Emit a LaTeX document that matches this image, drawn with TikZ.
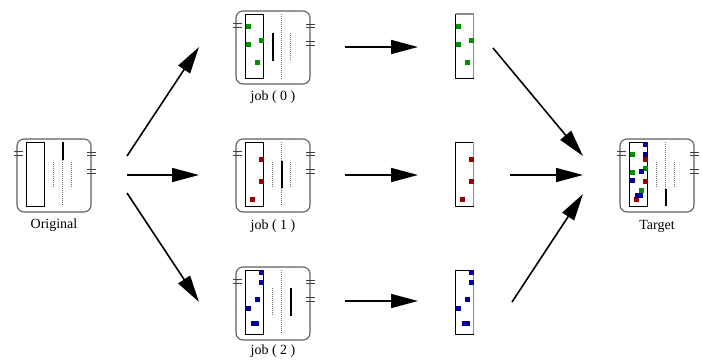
\documentclass[tikz,border=0pt]{standalone}
\usepackage{fontspec}
\setmainfont{Liberation Serif}
\usetikzlibrary{arrows.meta}
\definecolor{grn}{RGB}{0,145,0}
\definecolor{drd}{RGB}{155,0,0}
\definecolor{blu}{RGB}{0,0,155}
\definecolor{boxgray}{RGB}{95,95,95}
\tikzset{
  iconbox/.style={draw=boxgray, line width=1.1pt, rounded corners=7pt, minimum width=74pt, minimum height=73pt, inner sep=0pt},
  inrect/.style={draw=black, line width=1pt},
  tickl/.style={draw=black!75, line width=0.9pt},
  dotl/.style={draw=black!55, line width=1pt, dash pattern=on 1pt off 1pt},
  solidl/.style={draw=black, line width=2pt},
  arr/.style={line width=1.6pt, -{Triangle[length=27pt,width=14pt]}},
  lab/.style={font=\fontsize{14}{16}\selectfont, anchor=base, inner sep=0pt},
  strip/.style={draw=black, line width=1pt, minimum width=18pt, minimum height=64pt, inner sep=0pt}
}
\newcommand\sqr[3]{\fill[#1] ({#2-2.5},{#3-2.5}) rectangle ({#2+2.5},{#3+2.5});}
\newcommand\greens{\sqr{grn}{3}{12}\sqr{grn}{3}{30}\sqr{grn}{16}{26}\sqr{grn}{12}{48}}
\newcommand\reds{\sqr{drd}{16}{17}\sqr{drd}{16}{39}\sqr{drd}{7}{57}}
\newcommand\blues{\sqr{blu}{16}{2}\sqr{blu}{16}{12}\sqr{blu}{12}{29}\sqr{blu}{3}{38}\fill[blu] (6,50.5) rectangle (14,55.5);}
\newcommand\iconframe[1]{%
  \node[iconbox] (#1) at (28,33.5) {};
  \draw[tickl] (-12,9) -- (-3,9) (-12,13) -- (-3,13);
  \draw[tickl] (61,10) -- (70,10) (61,13) -- (70,13) (61,27) -- (70,27) (61,31) -- (70,31);
  \draw[inrect] (0,0) rectangle (18,64);
}
\newcommand\stripedge{\draw[black!45, line width=1.5pt] (18,0) -- (18,64);}
\begin{document}
\begin{tikzpicture}[x=1pt,y=-1pt]
\useasboundingbox (0,0) rectangle (702,360);

% Original
\begin{scope}[shift={(26,142)}]
  \iconframe{orig}
  \draw[dotl] (27.5,20) -- (27.5,45);
  \draw[solidl] (36.5,0) -- (36.5,18);
  \draw[dotl] (36.5,18) -- (36.5,64);
  \draw[dotl] (45.5,20) -- (45.5,45);
\end{scope}
\node[lab] (origlab) at (54,228) {Original};

% job 0
\begin{scope}[shift={(245,14)}]
  \iconframe{job0}
  \greens
  \draw[solidl] (27.5,19) -- (27.5,47);
  \draw[dotl] (36.5,0) -- (36.5,65);
  \draw[dotl] (45.5,19) -- (45.5,46);
\end{scope}
\node[lab] (job0lab) at (273,100) {job ( 0 )};

% job 1
\begin{scope}[shift={(245,142)}]
  \iconframe{job1}
  \reds
  \draw[dotl] (27.5,20) -- (27.5,45);
  \draw[dotl] (36.5,0) -- (36.5,64);
  \draw[solidl] (36.5,19) -- (36.5,46);
  \draw[dotl] (45.5,20) -- (45.5,45);
\end{scope}
\node[lab] (job1lab) at (273,229) {job ( 1 )};

% job 2
\begin{scope}[shift={(245,270)}]
  \iconframe{job2}
  \blues
  \draw[dotl] (27.5,18) -- (27.5,46);
  \draw[dotl] (36.5,0) -- (36.5,64);
  \draw[solidl] (45.5,18) -- (45.5,46);
\end{scope}
\node[lab] (job2lab) at (273,354) {job ( 2 )};

% strips
\begin{scope}[shift={(455.5,14)}]
  \node[strip] (s0) at (9,32) {};
  \draw[black!45, line width=1.2pt] (0,0) -- (18,0);
  \stripedge
  \greens
\end{scope}
\begin{scope}[shift={(455.5,142)}]
  \node[strip] (s1) at (9,32) {};
  \stripedge
  \reds
\end{scope}
\begin{scope}[shift={(455.5,270)}]
  \node[strip] (s2) at (9,32) {};
  \stripedge
  \blues
\end{scope}

% Target
\begin{scope}[shift={(629,142)}]
  \iconframe{target}
  \reds
  \greens
  \blues
  \draw[dotl] (27.5,20) -- (27.5,46);
  \draw[dotl] (36.5,0) -- (36.5,47);
  \draw[solidl] (36.5,47) -- (36.5,64);
  \draw[dotl] (45.5,20) -- (45.5,46);
\end{scope}
\node[lab] (targetlab) at (657,229) {Target};

% arrow end points
\coordinate (o1) at (127,156); \coordinate (j0in) at (199,47);
\coordinate (o2) at (127,175); \coordinate (j1in) at (199,175);
\coordinate (o3) at (127,193); \coordinate (j2in) at (199,302);
\coordinate (j0out) at (345,47); \coordinate (s0in) at (418,47);
\coordinate (j1out) at (345,175); \coordinate (s1in) at (418,175);
\coordinate (j2out) at (345,301); \coordinate (s2in) at (418,301);
\coordinate (s0out) at (493,48); \coordinate (t1) at (583,156);
\coordinate (s1out) at (510,175); \coordinate (t2) at (583,175);
\coordinate (s2out) at (512,302); \coordinate (t3) at (583,194);

\draw[arr] (o1) -- (j0in);
\draw[arr] (o2) -- (j1in);
\draw[arr] (o3) -- (j2in);
\draw[arr] (j0out) -- (s0in);
\draw[arr] (j1out) -- (s1in);
\draw[arr] (j2out) -- (s2in);
\draw[arr] (s0out) -- (t1);
\draw[arr] (s1out) -- (t2);
\draw[arr] (s2out) -- (t3);
\end{tikzpicture}
\end{document}
